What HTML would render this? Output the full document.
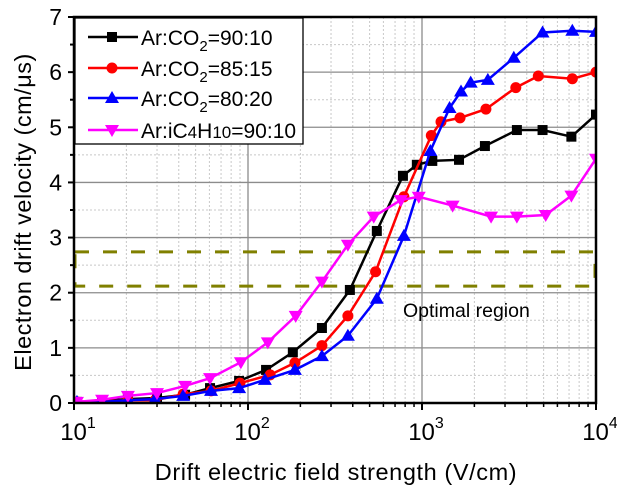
<!DOCTYPE html>
<html><head><meta charset="utf-8"><style>
body{margin:0;background:#fff}
svg{display:block;font-family:"Liberation Sans",Arial,sans-serif}
</style></head><body>
<svg id="chart" width="617" height="488"></svg>
<script>
const xBlack=[10.4,14.5,20.4,30,43.5,60.5,88.9,127,181,266,385,550,777,934,1146,1632,2299,3510,4930,7220,10000];
const yBlack=[0.02,0.04,0.07,0.09,0.15,0.27,0.4,0.6,0.92,1.36,2.05,3.12,4.12,4.32,4.39,4.41,4.66,4.95,4.95,4.83,5.23];
const xRed=[10.4,14.5,20.4,29.2,42.4,61.3,89.9,134,186,266,375,541,787,1131,1286,1654,2330,3460,4660,7310,10000];
const yRed=[0.02,0.03,0.05,0.05,0.16,0.22,0.36,0.51,0.73,1.04,1.58,2.38,3.74,4.85,5.1,5.17,5.33,5.72,5.93,5.88,6.0];
const xBlue=[10.4,14.5,20.4,29.2,42.4,61.3,88.9,125,186,266,375,550,787,1117,1440,1676,1905,2390,3370,4930,7310,10000];
const yBlue=[0.02,0.02,0.05,0.07,0.13,0.22,0.27,0.42,0.6,0.85,1.22,1.89,3.03,4.57,5.35,5.65,5.81,5.86,6.26,6.72,6.75,6.73];
const xMag=[10.4,14.5,20.4,30,43.5,60.5,91,130,188,266,375,528,756,958,1500,2494,3510,5140,7220,10000];
const yMag=[0.02,0.06,0.13,0.18,0.31,0.45,0.74,1.1,1.58,2.2,2.87,3.38,3.68,3.74,3.58,3.38,3.38,3.41,3.76,4.43];
const yTicks=[0,1,2,3,4,5,6,7];
const xDecades=[1,2,3,4];
const optimalBand=[2.12,2.74];

const NS="http://www.w3.org/2000/svg";
const svg=document.getElementById('chart');
const L=74,R=596,T=17,B=403;
const X=v=>L+(Math.log10(v)-1)*(R-L)/3;
const Y=v=>B-v*(B-T)/7;
function mk(t,a,p){const e=document.createElementNS(NS,t);for(const k in a)e.setAttribute(k,a[k]);(p||svg).appendChild(e);return e;}

const grid=mk('g',{});


for(let d=1;d<4;d++){for(let m=2;m<=9;m++){const x=X(m*Math.pow(10,d));mk('line',{x1:x,x2:x,y1:T,y2:B,stroke:'#c8c8c8','stroke-dasharray':'2,2'},grid);}}
for(let v=0.5;v<7;v+=1){mk('line',{x1:L,x2:R,y1:Y(v),y2:Y(v),stroke:'#c8c8c8','stroke-dasharray':'2,2'},grid);}
for(const d of [2,3]){mk('line',{x1:X(Math.pow(10,d)),x2:X(Math.pow(10,d)),y1:T,y2:B,stroke:'#8c8c8c','stroke-width':1.3},grid);}
for(let v=1;v<7;v++){mk('line',{x1:L,x2:R,y1:Y(v),y2:Y(v),stroke:'#8c8c8c','stroke-width':1.3},grid);}

const band=mk('rect',{x:L+1,y:Y(optimalBand[1]),width:R-L-2,height:Y(optimalBand[0])-Y(optimalBand[1]),fill:'none',stroke:'#808000','stroke-width':3,'stroke-dasharray':'14,14'});


const ot=mk('text',{x:403,y:317,'font-size':19.5,fill:'#000'});ot.textContent='Optimal region';



function marker(g,type,x,y,c){
  if(type==='sq')mk('rect',{x:x-5,y:y-5,width:10,height:10,fill:c},g);
  else if(type==='ci')mk('circle',{cx:x,cy:y,r:5.5,fill:c},g);
  else if(type==='up')mk('polygon',{points:`${x},${y-7} ${x-7},${y+5} ${x+7},${y+5}`,fill:c},g);
  else mk('polygon',{points:`${x},${y+7} ${x-7},${y-5} ${x+7},${y-5}`,fill:c},g);
}
const series=[[xBlack,yBlack,'#000','sq','series-ar-co2-90-10'],[xRed,yRed,'#f00','ci','series-ar-co2-85-15'],[xBlue,yBlue,'#00f','up','series-ar-co2-80-20'],[xMag,yMag,'#f0f','dn','series-ar-ic4h10-90-10']];
const clip=mk('clipPath',{id:'pc'});mk('rect',{x:L,y:T,width:R-L,height:B-T},clip);
for(const [xs,ys,c,t,n] of series){
  const g=mk('g',{'clip-path':'url(#pc)'});
  
  
  mk('polyline',{points:xs.map((x,i)=>X(x)+','+Y(ys[i])).join(' '),fill:'none',stroke:c,'stroke-width':2.5},g);
  xs.forEach((x,i)=>marker(g,t,X(x),Y(ys[i]),c));
}

const ax=mk('g',{});


mk('rect',{x:L,y:T,width:R-L,height:B-T,fill:'none',stroke:'#000','stroke-width':2.5},ax);
yTicks.forEach(v=>{mk('line',{x1:L-6,x2:L,y1:Y(v),y2:Y(v),stroke:'#000','stroke-width':2},ax);
  const t=mk('text',{x:62,y:Y(v)+8,'font-size':23,'text-anchor':'end'},ax);t.textContent=v;
  if(v<7)mk('line',{x1:L-4,x2:L,y1:Y(v+0.5),y2:Y(v+0.5),stroke:'#000','stroke-width':2},ax);});
for(let d=1;d<=4;d++){const x=X(Math.pow(10,d));mk('line',{x1:x,x2:x,y1:B,y2:B+7,stroke:'#000','stroke-width':2},ax);
  if(d<4)for(let m=2;m<=9;m++){const xm=X(m*Math.pow(10,d));mk('line',{x1:xm,x2:xm,y1:B,y2:B+4,stroke:'#000','stroke-width':1.5},ax);}}
xDecades.forEach(d=>{const t=mk('text',{x:X(Math.pow(10,d))+4,y:440,'font-size':24,'text-anchor':'middle'},ax);
  t.innerHTML='10<tspan dy="-12" font-size="16">'+d+'</tspan>';});
const xt=mk('text',{x:336,y:480,'font-size':23.5,'letter-spacing':0.6,'text-anchor':'middle'});xt.textContent='Drift electric field strength (V/cm)';


const yt=mk('text',{x:0,y:0,'font-size':23.5,'letter-spacing':0.5,'text-anchor':'middle',transform:'translate(31,212) rotate(-90)'});yt.textContent='Electron drift velocity (cm/μs)';



const lg=mk('g',{});


mk('rect',{x:L+1,y:T+1,width:228,height:126,fill:'#fff',stroke:'#000','stroke-width':1.3},lg);
const labels=['Ar:CO<tspan dy="6" font-size="15">2</tspan><tspan dy="-6">=90:10</tspan>','Ar:CO<tspan dy="6" font-size="15">2</tspan><tspan dy="-6">=85:15</tspan>','Ar:CO<tspan dy="6" font-size="15">2</tspan><tspan dy="-6">=80:20</tspan>','Ar:iC<tspan font-size="17">4</tspan>H<tspan font-size="17">10</tspan>=90:10'];
const ly=[37,68,98,130];
series.forEach((s,i)=>{const e=mk('g',{},lg);
  
  
  mk('line',{x1:88,x2:138,y1:ly[i],y2:ly[i],stroke:s[2],'stroke-width':2.5},e);
  marker(e,s[3],112,ly[i],s[2]);
  const t=mk('text',{x:141,y:ly[i]+8,'font-size':21},e);t.innerHTML=labels[i];});
</script>
</body></html>
